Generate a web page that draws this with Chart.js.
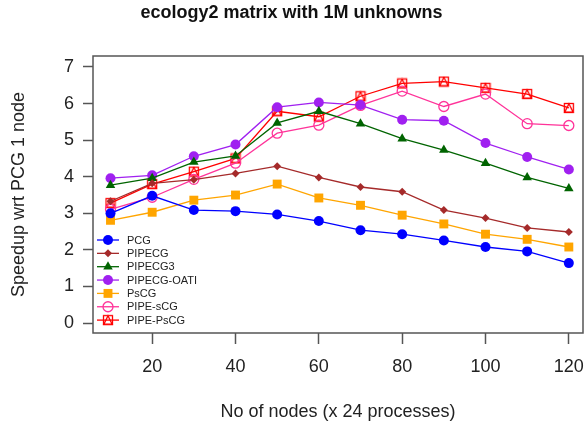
<!DOCTYPE html>
<html>
<head>
<meta charset="utf-8">
<script src="https://cdn.jsdelivr.net/npm/chart.js@4"></script>
<style>
  html, body { margin: 0; padding: 0; background: #fff; }
  #wrap { width: 587px; height: 427px; }
</style>
</head>
<body>
<div id="wrap"><canvas id="speedup" width="587" height="427"></canvas></div>
<script>
// nodes (x 24 processes)
var nodes = [10, 20, 30, 40, 50, 60, 70, 80, 90, 100, 110, 120];

var pcg       = [3.00, 3.48, 3.09, 3.06, 2.97, 2.79, 2.54, 2.43, 2.26, 2.08, 1.96, 1.64];
var pipecg    = [3.33, 3.82, 3.92, 4.09, 4.29, 3.98, 3.72, 3.59, 3.09, 2.87, 2.60, 2.49];
var pipecg3   = [3.77, 3.96, 4.40, 4.57, 5.47, 5.79, 5.45, 5.04, 4.73, 4.37, 3.98, 3.68];
var pipecgOati= [3.96, 4.04, 4.56, 4.88, 5.90, 6.03, 5.96, 5.56, 5.53, 4.92, 4.54, 4.20];
var pscg      = [2.81, 3.03, 3.36, 3.50, 3.80, 3.42, 3.22, 2.95, 2.71, 2.43, 2.29, 2.08];
var pipeScg   = [3.11, 3.44, 3.93, 4.37, 5.19, 5.41, 5.95, 6.34, 5.92, 6.26, 5.45, 5.40];
var pipePscg  = [3.28, 3.80, 4.14, 4.50, 5.79, 5.64, 6.20, 6.55, 6.60, 6.43, 6.26, 5.88];

var xTicks = [20, 40, 60, 80, 100, 120];
var yTicks = [0, 1, 2, 3, 4, 5, 6, 7];

var FONT = '"Liberation Sans", Arial, sans-serif';

function pts(vals) {
    return vals.map(function (v, i) { return { x: nodes[i], y: v }; });
}

// square with a triangle inside (R pch 14 look-alike)
function boxTriangle(color) {
    var c = document.createElement('canvas');
    c.width = 12; c.height = 12;
    var g = c.getContext('2d');
    g.strokeStyle = color;
    g.lineWidth = 1.3;
    g.strokeRect(1.5, 1.5, 9, 9);
    g.beginPath();
    g.moveTo(6, 1.8);
    g.lineTo(10.2, 10.2);
    g.lineTo(1.8, 10.2);
    g.closePath();
    g.stroke();
    return c;
}

function series(label, vals, color, style, radius, fill) {
    return {
        label: label,
        data: pts(vals),
        borderColor: color,
        backgroundColor: color,
        pointBackgroundColor: fill ? color : 'rgba(0,0,0,0)',
        pointBorderColor: color,
        pointStyle: style,
        pointRadius: radius,
        pointHoverRadius: radius,
        pointBorderWidth: fill ? 0 : 1.3,
        borderWidth: 1.3,
        tension: 0
    };
}

var datasets = [
    series('PCG', pcg, '#0000ff', 'circle', 5, true),
    series('PIPECG', pipecg, '#a52a2a', 'rectRot', 4, true),
    series('PIPECG3', pipecg3, '#006400', 'triangle', 5.5, true),
    series('PIPECG-OATI', pipecgOati, '#a020f0', 'circle', 5, true),
    series('PsCG', pscg, '#ffa500', 'rect', 6.3, true),
    series('PIPE-sCG', pipeScg, '#ff3399', 'circle', 5, false),
    series('PIPE-PsCG', pipePscg, '#ff0000', boxTriangle('#ff0000'), 6, false)
];

var plotBox = {
    id: 'plotBox',
    afterDatasetsDraw: function (chart) {
        var a = chart.chartArea, ctx = chart.ctx;
        ctx.save();
        ctx.strokeStyle = '#555';
        ctx.lineWidth = 1.5;
        ctx.strokeRect(a.left, a.top, a.right - a.left, a.bottom - a.top);

        // legend in the lower left corner, no frame
        ctx.font = '11px ' + FONT;
        ctx.textBaseline = 'middle';
        chart.data.datasets.forEach(function (ds, i) {
            var y = 240 + i * 13.35;
            ctx.strokeStyle = ds.borderColor;
            ctx.lineWidth = 1.3;
            ctx.beginPath();
            ctx.moveTo(97, y);
            ctx.lineTo(119, y);
            ctx.stroke();
            ctx.fillStyle = ds.pointBackgroundColor;
            ctx.strokeStyle = ds.pointBorderColor;
            ctx.lineWidth = ds.pointBorderWidth;
            Chart.helpers.drawPoint(ctx, {
                pointStyle: ds.pointStyle,
                radius: ds.pointRadius,
                rotation: 0,
                borderWidth: ds.pointBorderWidth
            }, 108, y);
            ctx.fillStyle = '#222';
            ctx.fillText(ds.label, 127, y + 0.5);
        });
        ctx.restore();
    }
};

var ctx = document.getElementById('speedup').getContext('2d');

var myChart = new Chart(ctx, {
    type: 'line',
    data: { datasets: datasets },
    plugins: [plotBox],
    options: {
        responsive: false,
        animation: false,
        events: [],
        layout: { padding: { left: 0, top: 0, bottom: 0, right: 4 }, autoPadding: false },
        plugins: {
            legend: { display: false },
            tooltip: { enabled: false },
            title: {
                display: true,
                text: 'ecology2 matrix with 1M unknowns',
                color: '#111',
                font: { family: FONT, size: 18, weight: 'bold' },
                padding: { top: 2.5, bottom: 31.9 }
            }
        },
        scales: {
            x: {
                type: 'linear',
                min: 5.8,
                max: 123.4,
                afterBuildTicks: function (s) {
                    s.ticks = xTicks.map(function (v) { return { value: v }; });
                },
                afterFit: function (s) {
                    s.height = 94;
                    s.paddingLeft = 0;
                    s.paddingRight = 0;
                },
                grid: {
                    drawOnChartArea: false,
                    drawTicks: true,
                    tickLength: 11,
                    tickColor: '#555',
                    tickWidth: 1.5
                },
                border: { display: false },
                ticks: {
                    color: '#222',
                    padding: 12,
                    maxRotation: 0,
                    font: { family: FONT, size: 18 }
                },
                title: {
                    display: true,
                    text: 'No of nodes (x 24 processes)',
                    color: '#222',
                    padding: { top: 10, bottom: 4 },
                    font: { family: FONT, size: 18 }
                }
            },
            y: {
                min: -0.27,
                max: 7.3,
                afterBuildTicks: function (s) {
                    s.ticks = yTicks.map(function (v) { return { value: v }; });
                },
                afterFit: function (s) {
                    s.width = 93;
                    s.paddingTop = 0;
                    s.paddingBottom = 0;
                },
                grid: {
                    drawOnChartArea: false,
                    drawTicks: true,
                    tickLength: 10,
                    tickColor: '#555',
                    tickWidth: 1.5
                },
                border: { display: false },
                ticks: {
                    color: '#222',
                    padding: 9,
                    font: { family: FONT, size: 18 }
                },
                title: {
                    display: true,
                    text: 'Speedup wrt PCG 1 node',
                    color: '#222',
                    padding: { top: 8, bottom: 10 },
                    font: { family: FONT, size: 18 }
                }
            }
        }
    }
});
</script>
</body>
</html>
